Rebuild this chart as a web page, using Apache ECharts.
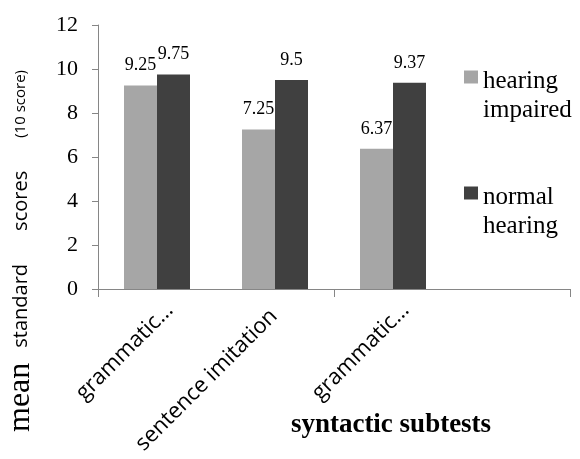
<!DOCTYPE html>
<html>
<head>
<meta charset="utf-8">
<script src="https://cdn.jsdelivr.net/npm/echarts@6/dist/echarts.min.js"></script>
<style>
html,body{margin:0;padding:0;background:#fff;}
#chart{width:580px;height:459px;}
</style>
</head>
<body>
<div id="chart"></div>
<script>
var categories = ['grammatic\u2026', 'sentence imitation', 'grammatic\u2026', ''];
var hearingImpaired = [9.25, 7.25, 6.37, null];
var normalHearing = [9.75, 9.5, 9.37, null];
var seriesNames = ['hearing\nimpaired', 'normal\nhearing'];
var yTicks = { min: 0, max: 12, interval: 2 };
var xAxisTitle = 'syntactic subtests';

var chart = echarts.init(document.getElementById('chart'));
var serif = '"Liberation Serif", "Times New Roman", serif';
var sans = '"Open Sans", sans-serif';
var labelStyle = {
  show: true, position: 'top', distance: 11,
  fontFamily: serif, fontSize: 18, color: '#000'
};
chart.setOption({
  animation: false,
  backgroundColor: '#fff',
  grid: { left: 98, right: 10, top: 25, bottom: 170, containLabel: false, outerBoundsMode: 'none' },
  legend: {
    orient: 'vertical', left: 464, top: 43, padding: 0,
    itemWidth: 14, itemHeight: 13, itemGap: 36,
    icon: 'rect', selectedMode: false,
    formatter: function (name) {
      var l = name.split('\n');
      return '{e| }\n{t|' + l[0] + '}\n{t|' + l[1] + '}';
    },
    textStyle: {
      color: '#000',
      rich: {
        e: { fontSize: 10, lineHeight: 38 },
        t: { fontFamily: serif, fontSize: 25, lineHeight: 29, color: '#000' }
      }
    },
    data: seriesNames
  },
  xAxis: {
    type: 'category', data: categories,
    axisLine: { lineStyle: { color: '#868686', width: 1 } },
    axisTick: { show: true, interval: function (i) { return i % 2 === 0; }, length: 8, lineStyle: { color: '#868686' } },
    axisLabel: {
      interval: 0, rotate: 45, margin: 5, color: '#000',
      formatter: function (v, i) { return v ? (i === 1 ? '{b|' + v + '}' : '{a|' + v + '}') : ''; },
      rich: {
        a: { fontFamily: sans, fontSize: 22, color: '#000', padding: [36, 0, 0, 0] },
        b: { fontFamily: sans, fontSize: 22, color: '#000', padding: [25, 14, 0, 0] }
      }
    }
  },
  yAxis: {
    type: 'value', min: yTicks.min, max: yTicks.max, interval: yTicks.interval,
    axisLine: { show: true, lineStyle: { color: '#868686', width: 1 } },
    axisTick: { show: true, length: 6, lineStyle: { color: '#868686' } },
    splitLine: { show: false },
    axisLabel: { margin: 20, fontFamily: serif, fontSize: 22, color: '#000' }
  },
  graphic: [
    {
      type: 'text', x: 21, y: 251, rotation: Math.PI / 2,
      style: {
        text: '{a|mean}{b|standard}{b|scores}{c|(10 score)}',
        align: 'center', verticalAlign: 'middle',
        rich: {
          a: { fontFamily: serif, fontSize: 32, color: '#000', padding: [0, 15, 0, 0] },
          b: { fontFamily: sans, fontSize: 20, color: '#000', padding: [0, 33, 0, 0] },
          c: { fontFamily: sans, fontSize: 15, color: '#000' }
        }
      }
    },
    {
      type: 'text', x: 391, y: 425,
      style: {
        text: xAxisTitle, align: 'center', verticalAlign: 'middle',
        fontFamily: serif, fontSize: 27, fontWeight: 'bold', fill: '#000'
      }
    }
  ],
  series: [
    {
      name: seriesNames[0], type: 'bar', data: hearingImpaired,
      barWidth: 33, barGap: '0%',
      itemStyle: { color: '#A6A6A6' }, label: labelStyle
    },
    {
      name: seriesNames[1], type: 'bar', data: normalHearing,
      barWidth: 33, barGap: '0%',
      itemStyle: { color: '#404040' }, label: labelStyle
    }
  ]
});
</script>
</body>
</html>
